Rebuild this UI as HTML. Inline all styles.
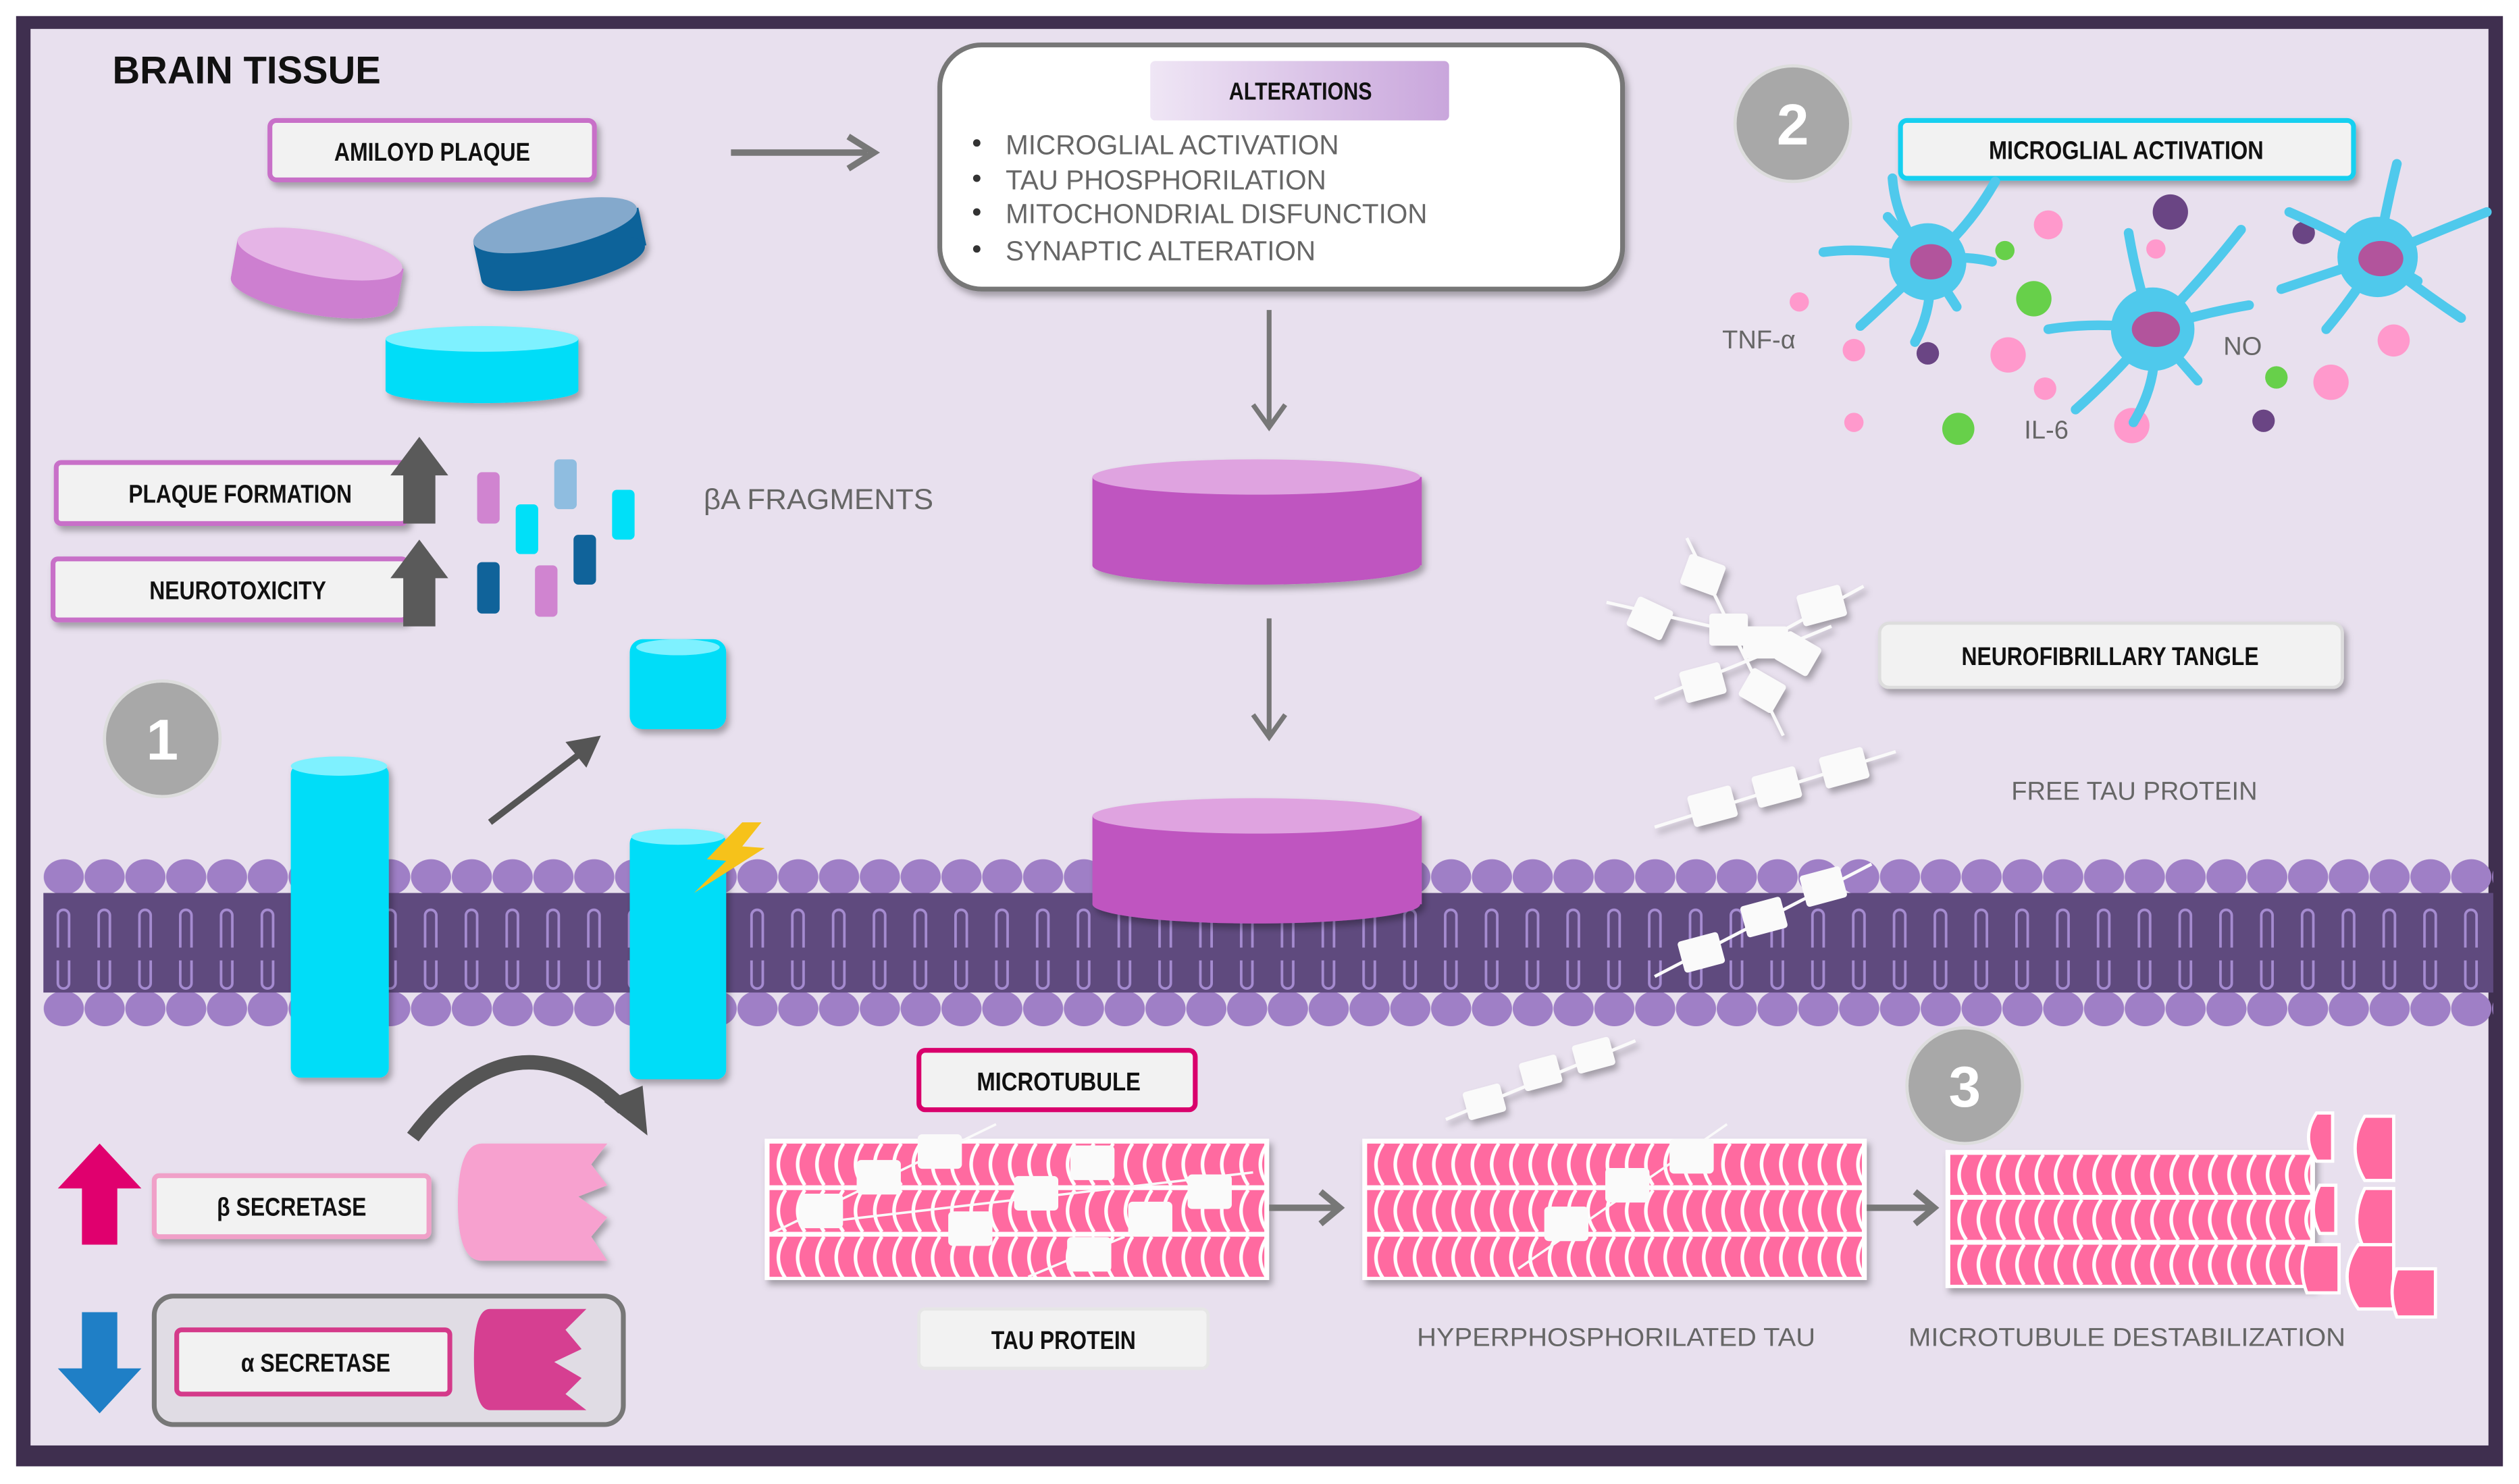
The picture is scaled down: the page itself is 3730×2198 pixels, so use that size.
<!DOCTYPE html>
<html><head><meta charset="utf-8"><style>
html,body{margin:0;padding:0;background:#fff}
svg{display:block}
.t{font-family:"Liberation Sans Narrow","Liberation Sans",sans-serif;font-weight:bold;fill:#111}
.g{font-family:"Liberation Sans",sans-serif;fill:#666}
</style></head><body>
<svg width="3730" height="2198" viewBox="0 0 1568 924" xmlns="http://www.w3.org/2000/svg">
<defs>
<pattern id="mem" x="27" y="0" width="25.4" height="924" patternUnits="userSpaceOnUse">
<ellipse cx="12.7" cy="546" rx="12.5" ry="11" fill="#9f7fc6"/>
<ellipse cx="12.7" cy="628" rx="12.5" ry="11" fill="#9f7fc6"/>
<rect x="0" y="556" width="25.4" height="62" fill="#5f4a7e"/>
<path d="M9,590 V570 a3.5,3.5 0 0 1 7,0 V590" fill="none" stroke="#a58bd0" stroke-width="1.6"/>
<path d="M9,598 V612 a3.5,3.5 0 0 0 7,0 V598" fill="none" stroke="#a58bd0" stroke-width="1.6"/>
</pattern>
<pattern id="mt1" x="479" y="712" width="12" height="29" patternUnits="userSpaceOnUse">
<rect width="12" height="29" fill="#fff"/>
<rect width="12" height="26" fill="#ff6aa0"/>
<path d="M10,0 Q1,13 10,26" fill="none" stroke="#fff" stroke-width="2.2"/>
</pattern>
<pattern id="mt3" x="1214" y="719" width="12" height="28" patternUnits="userSpaceOnUse">
<rect width="12" height="28" fill="#fff"/>
<rect width="12" height="25" fill="#ff6aa0"/>
<path d="M10,0 Q1,12.5 10,25" fill="none" stroke="#fff" stroke-width="2.2"/>
</pattern>
<linearGradient id="hdr" x1="0" x2="1"><stop offset="0" stop-color="#efe6f5"/><stop offset="1" stop-color="#c9a6dc"/></linearGradient>
<filter id="sh" x="-10%" y="-10%" width="130%" height="140%"><feDropShadow dx="2" dy="3" stdDeviation="2" flood-color="#000" flood-opacity="0.3"/></filter>
</defs>
<rect x="0" y="0" width="1568" height="924" fill="#fff"/>
<rect x="10" y="10" width="1548" height="903" fill="#3f2f4f"/>
<rect x="19" y="18" width="1530" height="882" fill="#e8e0ee"/>

<text x="70" y="52" class="t" font-size="24" textLength="167" lengthAdjust="spacingAndGlyphs">BRAIN TISSUE</text>

<rect x="168" y="75" width="202" height="37" rx="4" fill="#f2f2f2" stroke="#c86fc8" stroke-width="3" filter="url(#sh)"/>
<text x="208" y="100" class="t" font-size="16" textLength="122" lengthAdjust="spacingAndGlyphs">AMILOYD PLAQUE</text>
<path d="M455,95 H540" stroke="#777" stroke-width="4"/><path d="M528,85 L544,95 L528,105" fill="none" stroke="#777" stroke-width="4"/>

<g filter="url(#sh)">
<g transform="rotate(10 197 170)"><rect x="145" y="158" width="105" height="24" fill="#cd7fd0"/><ellipse cx="197" cy="182" rx="52" ry="14" fill="#cd7fd0"/><ellipse cx="197" cy="158" rx="52" ry="14" fill="#e5b4e6"/></g>
<g transform="rotate(-12 348 152)"><rect x="296" y="140" width="105" height="24" fill="#10639a"/><ellipse cx="348" cy="164" rx="52" ry="14" fill="#10639a"/><ellipse cx="348" cy="140" rx="52" ry="14" fill="#84a9cc"/></g>
<rect x="240" y="211" width="120" height="32" fill="#00ddf8"/><ellipse cx="300" cy="243" rx="60" ry="8" fill="#00ddf8"/><ellipse cx="300" cy="211" rx="60" ry="8" fill="#7ef1ff"/>
</g>

<rect x="35" y="288" width="218" height="38" rx="3" fill="#f2f2f2" stroke="#c86fc8" stroke-width="3" filter="url(#sh)"/>
<text x="80" y="313" class="t" font-size="16" textLength="139" lengthAdjust="spacingAndGlyphs">PLAQUE FORMATION</text>
<rect x="33" y="348" width="220" height="38" rx="3" fill="#f2f2f2" stroke="#c86fc8" stroke-width="3" filter="url(#sh)"/>
<text x="93" y="373" class="t" font-size="16" textLength="110" lengthAdjust="spacingAndGlyphs">NEUROTOXICITY</text>
<path d="M251,326 V296 H243 L261,272 L279,296 H271 V326Z" fill="#5a5a5a"/>
<path d="M251,390 V360 H243 L261,336 L279,360 H271 V390Z" fill="#5a5a5a"/>
<rect x="297" y="294" width="14" height="32" rx="3" fill="#d084d0"/>
<rect x="345" y="286" width="14" height="31" rx="3" fill="#8fbde0"/>
<rect x="321" y="314" width="14" height="31" rx="3" fill="#00e0f8"/>
<rect x="381" y="305" width="14" height="31" rx="3" fill="#00e0f8"/>
<rect x="357" y="333" width="14" height="31" rx="3" fill="#10639a"/>
<rect x="297" y="350" width="14" height="32" rx="3" fill="#10639a"/>
<rect x="333" y="352" width="14" height="32" rx="3" fill="#d084d0"/>
<text x="438" y="317" class="g" font-size="18" fill="#555" textLength="143" lengthAdjust="spacingAndGlyphs">βA FRAGMENTS</text>

<rect x="585" y="28" width="425" height="152" rx="26" fill="#fff" stroke="#777" stroke-width="3" filter="url(#sh)"/>
<rect x="716" y="38" width="186" height="37" rx="3" fill="url(#hdr)"/>
<text x="765" y="62" class="t" font-size="15" textLength="89" lengthAdjust="spacingAndGlyphs">ALTERATIONS</text>
<g class="g" font-size="17">
<circle cx="608" cy="89" r="2.3" fill="#333"/><text x="626" y="96">MICROGLIAL ACTIVATION</text>
<circle cx="608" cy="111" r="2.3" fill="#333"/><text x="626" y="118">TAU PHOSPHORILATION</text>
<circle cx="608" cy="132" r="2.3" fill="#333"/><text x="626" y="139">MITOCHONDRIAL DISFUNCTION</text>
<circle cx="608" cy="155" r="2.3" fill="#333"/><text x="626" y="162">SYNAPTIC ALTERATION</text>
</g>
<g stroke="#777" stroke-width="3" fill="none">
<path d="M790,193 V265"/><path d="M780,252 L790,266 L800,252"/>
<path d="M790,385 V458"/><path d="M780,445 L790,459 L800,445"/>
</g>

<g filter="url(#sh)">
<rect x="680" y="297" width="205" height="55" fill="#bf55c0"/><ellipse cx="782" cy="352" rx="102" ry="12" fill="#bf55c0"/><ellipse cx="782" cy="297" rx="102" ry="11" fill="#dfa3e0"/>
</g>

<g font-family="Liberation Sans,sans-serif" font-weight="bold" font-size="36" fill="#fff" text-anchor="middle">
<circle cx="1116" cy="77" r="36" fill="#a8a8a8" stroke="#ddd" stroke-width="2"/><text x="1116" y="90">2</text>
<circle cx="101" cy="460" r="36" fill="#a8a8a8" stroke="#ddd" stroke-width="2"/><text x="101" y="473">1</text>
<circle cx="1223" cy="676" r="36" fill="#a8a8a8" stroke="#ddd" stroke-width="2"/><text x="1223" y="689">3</text>
</g>

<rect x="1183" y="75" width="282" height="36" rx="4" fill="#f2f2f2" stroke="#16d0f0" stroke-width="3" filter="url(#sh)"/>
<text x="1238" y="99" class="t" font-size="16" textLength="171" lengthAdjust="spacingAndGlyphs">MICROGLIAL ACTIVATION</text>
<g fill="#ff99cc">
<circle cx="1275" cy="140" r="9"/><circle cx="1342" cy="155" r="6"/><circle cx="1120" cy="188" r="6"/><circle cx="1154" cy="218" r="7"/><circle cx="1250" cy="221" r="11"/><circle cx="1273" cy="242" r="7"/><circle cx="1154" cy="263" r="6"/><circle cx="1327" cy="265" r="11"/><circle cx="1451" cy="238" r="11"/><circle cx="1490" cy="212" r="10"/>
</g>
<g fill="#67d04a"><circle cx="1248" cy="156" r="6"/><circle cx="1266" cy="186" r="11"/><circle cx="1219" cy="267" r="10"/><circle cx="1417" cy="235" r="7"/></g>
<g fill="#6a4584"><circle cx="1351" cy="132" r="11"/><circle cx="1200" cy="220" r="7"/><circle cx="1434" cy="145" r="7"/><circle cx="1409" cy="262" r="7"/></g>
<g stroke="#4fc9ec" stroke-width="6" stroke-linecap="round" fill="none">
<g transform="translate(1200,163)"><path d="M0,0 Q-20,-25 -22,-52 M0,0 Q25,-20 42,-50 M0,0 Q-35,-10 -65,-6 M0,0 Q-20,20 -42,40 M0,0 Q5,25 -8,50 M0,0 Q20,-5 40,0 M0,0 L18,28 M0,0 L-25,-28"/></g>
<g transform="translate(1340,205)"><path d="M0,0 Q-10,-30 -15,-60 M0,0 Q30,-30 55,-62 M0,0 Q-35,-5 -65,0 M0,0 Q-20,25 -48,50 M0,0 Q5,30 -12,58 M0,0 Q30,-10 60,-15 M0,0 L28,32"/></g>
<g transform="translate(1480,160)"><path d="M0,0 Q-25,-15 -55,-28 M0,0 Q5,-30 12,-58 M0,0 Q35,-15 68,-28 M0,0 Q-30,10 -60,20 M0,0 Q-15,25 -32,45 M0,0 Q25,20 52,38 M0,0 L25,15"/></g>
</g>
<g fill="#4fc9ec"><circle cx="1200" cy="163" r="24"/><circle cx="1340" cy="205" r="26"/><circle cx="1480" cy="160" r="25"/></g>
<g fill="#b2549c"><ellipse cx="1202" cy="163" rx="13" ry="11"/><ellipse cx="1342" cy="205" rx="15" ry="11"/><ellipse cx="1482" cy="161" rx="14" ry="11"/></g>
<g class="g" font-size="16" fill="#555"><text x="1072" y="217">TNF-α</text><text x="1384" y="221">NO</text><text x="1260" y="273">IL-6</text></g>

<rect x="1170" y="388" width="288" height="40" rx="6" fill="#f2f2f2" stroke="#ddd" stroke-width="2" filter="url(#sh)"/>
<text x="1221" y="414" class="t" font-size="16" textLength="185" lengthAdjust="spacingAndGlyphs">NEUROFIBRILLARY TANGLE</text>
<text x="1252" y="498" class="g" font-size="16" fill="#555">FREE TAU PROTEIN</text>
<g filter="url(#sh)">
<path d="M1000,375 L1100,398 L1160,365 M1050,335 L1110,458 M1030,435 L1140,390 M1030,515 L1180,468 M900,697 L1018,648" fill="none" stroke="#fafafa" stroke-width="2"/>
<g fill="#fafafa">
<rect x="1048" y="348" width="24" height="20" rx="2" transform="rotate(20 1060 358)"/>
<rect x="1015" y="375" width="24" height="20" rx="2" transform="rotate(25 1027 385)"/>
<rect x="1064" y="382" width="24" height="20" rx="2"/>
<rect x="1085" y="390" width="28" height="20" rx="2"/>
<rect x="1120" y="367" width="28" height="20" rx="2" transform="rotate(-15 1134 377)"/>
<rect x="1107" y="397" width="24" height="20" rx="2" transform="rotate(30 1119 407)"/>
<rect x="1047" y="415" width="26" height="20" rx="2" transform="rotate(-15 1060 425)"/>
<rect x="1085" y="420" width="24" height="20" rx="2" transform="rotate(30 1097 430)"/>
<rect x="1052" y="492" width="28" height="20" rx="2" transform="rotate(-15 1066 502)"/>
<rect x="1092" y="480" width="28" height="20" rx="2" transform="rotate(-15 1106 490)"/>
<rect x="1134" y="468" width="28" height="20" rx="2" transform="rotate(-15 1148 478)"/>
<rect x="912" y="677" width="24" height="18" rx="2" transform="rotate(-15 924 686)"/>
<rect x="947" y="659" width="24" height="18" rx="2" transform="rotate(-15 959 668)"/>
<rect x="980" y="648" width="24" height="18" rx="2" transform="rotate(-15 992 657)"/>
</g></g>

<rect x="27" y="533" width="1525" height="108" fill="url(#mem)"/>
<g fill="#fafafa"><path d="M1030,608 L1165,538" stroke="#fafafa" stroke-width="2"/>
<rect x="1046" y="583" width="26" height="20" rx="2" transform="rotate(-15 1059 593)"/>
<rect x="1085" y="561" width="26" height="20" rx="2" transform="rotate(-15 1098 571)"/>
<rect x="1122" y="542" width="26" height="20" rx="2" transform="rotate(-15 1135 552)"/></g>

<g filter="url(#sh)">
<rect x="680" y="508" width="205" height="55" fill="#bf55c0"/><ellipse cx="782" cy="563" rx="102" ry="12" fill="#bf55c0"/><ellipse cx="782" cy="508" rx="102" ry="11" fill="#dfa3e0"/>
</g>

<g filter="url(#sh)">
<rect x="181" y="476" width="61" height="195" rx="6" fill="#00ddf8"/><ellipse cx="211" cy="477" rx="30" ry="6" fill="#7ef1ff"/>
<rect x="392" y="519" width="60" height="153" rx="6" fill="#00ddf8"/><ellipse cx="422" cy="521" rx="29" ry="5" fill="#7ef1ff"/>
<rect x="392" y="398" width="60" height="56" rx="8" fill="#00ddf8"/><ellipse cx="422" cy="403" rx="26" ry="5" fill="#7ef1ff"/>
</g>
<path d="M462,512 L440,535 L452,536 L432,556 L476,528 L462,527 L474,512Z" fill="#f6c21a"/>
<path d="M305,512 L368,464" stroke="#555" stroke-width="4"/><path d="M352,462 L374,458 L365,478Z" fill="#555"/>
<path d="M257,708 Q320,625 388,690" fill="none" stroke="#555" stroke-width="9"/>
<path d="M376,686 L403,707 L400,676Z" fill="#555"/>

<path d="M62,712 L88,740 H73 V775 H51 V740 H36Z" fill="#e0006e"/>
<path d="M62,880 L88,852 H73 V817 H51 V852 H36Z" fill="#1f7fc6"/>
<rect x="96" y="732" width="171" height="38" rx="3" fill="#f2f2f2" stroke="#f0a0c8" stroke-width="3" filter="url(#sh)"/>
<text x="135" y="757" class="t" font-size="16" textLength="93" lengthAdjust="spacingAndGlyphs">β SECRETASE</text>
<path d="M300,712 H378 L368,725 L378,738 L360,745 L378,758 L368,770 L378,785 H300 Q285,785 285,750 Q285,712 300,712Z" fill="#f7a1cf" filter="url(#sh)"/>
<rect x="96" y="807" width="292" height="80" rx="12" fill="#e0dce4" stroke="#777" stroke-width="3"/>
<rect x="110" y="828" width="170" height="40" rx="3" fill="#f2f2f2" stroke="#d43a8a" stroke-width="3"/>
<text x="150" y="854" class="t" font-size="16" textLength="93" lengthAdjust="spacingAndGlyphs">α SECRETASE</text>
<path d="M305,815 H365 L352,828 L362,840 L345,848 L362,858 L352,868 L365,878 H305 Q295,878 295,846 Q295,815 305,815Z" fill="#d63f91"/>

<rect x="572" y="654" width="172" height="37" rx="4" fill="#f2f2f2" stroke="#d9006c" stroke-width="3"/>
<text x="608" y="679" class="t" font-size="16" textLength="102" lengthAdjust="spacingAndGlyphs">MICROTUBULE</text>
<g filter="url(#sh)">
<rect x="476" y="709" width="314" height="88" fill="#fff"/>
<rect x="479" y="712" width="308" height="83" fill="url(#mt1)"/>
<rect x="848" y="709" width="314" height="88" fill="#fff"/>
<rect x="851" y="712" width="308" height="83" fill="url(#mt1)"/>
<rect x="1211" y="716" width="230" height="86" fill="#fff"/>
<rect x="1214" y="719" width="224" height="81" fill="url(#mt3)"/>
</g>
<g fill="#ff6aa0" stroke="#fff" stroke-width="2">
<path d="M1442,693 q-10,15 0,30 h10 v-30z"/><path d="M1472,695 q-12,20 0,40 h18 v-40z"/>
<path d="M1444,738 q-8,15 0,30 h10 v-30z"/><path d="M1472,740 q-10,20 0,38 h18 v-38z"/>
<path d="M1436,775 q-6,15 0,30 h20 v-30z"/><path d="M1468,775 q-14,20 0,40 h22 v-40z"/>
<path d="M1492,790 q-6,15 0,30 h24 v-30z"/>
</g>
<g fill="#fafafa" stroke="#fafafa" stroke-width="1.5">
<path d="M480,768 L620,700 M520,760 L780,730 M640,795 L700,770" fill="none"/>
<rect x="572" y="707" width="26" height="20" rx="2"/><rect x="534" y="723" width="26" height="20" rx="2"/>
<rect x="498" y="744" width="26" height="20" rx="2"/><rect x="591" y="755" width="26" height="20" rx="2"/>
<rect x="632" y="733" width="26" height="20" rx="2"/><rect x="667" y="714" width="26" height="20" rx="2"/>
<rect x="703" y="749" width="26" height="20" rx="2"/><rect x="740" y="732" width="26" height="20" rx="2"/>
<rect x="665" y="771" width="26" height="20" rx="2"/>
<path d="M945,790 L1075,700" fill="none"/>
<rect x="1040" y="710" width="26" height="20" rx="2"/><rect x="1000" y="728" width="26" height="20" rx="2"/><rect x="962" y="752" width="26" height="20" rx="2"/>
</g>
<g stroke="#777" stroke-width="4" fill="none">
<path d="M790,752 H832"/><path d="M822,742 L834,752 L822,762"/>
<path d="M1162,752 H1202"/><path d="M1192,742 L1204,752 L1192,762"/>
</g>
<rect x="572" y="815" width="180" height="37" rx="4" fill="#f2f2f2" stroke="#e6e6e6" stroke-width="2"/>
<text x="617" y="840" class="t" font-size="16" fill="#444" textLength="90" lengthAdjust="spacingAndGlyphs">TAU PROTEIN</text>
<text x="882" y="838" class="g" font-size="16" fill="#555" textLength="248" lengthAdjust="spacingAndGlyphs">HYPERPHOSPHORILATED TAU</text>
<text x="1188" y="838" class="g" font-size="16" fill="#555" textLength="272" lengthAdjust="spacingAndGlyphs">MICROTUBULE DESTABILIZATION</text>
</svg>
</body></html>
